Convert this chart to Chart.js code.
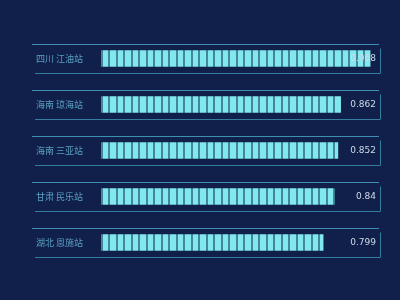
<!DOCTYPE html>
<html><head><meta charset="utf-8">
<script src="https://cdn.jsdelivr.net/npm/chart.js@4/dist/chart.umd.min.js"></script>
<style>html,body{margin:0;padding:0;background:#10204a;}#wrap{width:400px;height:300px;}</style>
</head><body><div id="wrap"><canvas id="c" width="400" height="300"></canvas></div>
<script>
const categories = ['四川 江油站', '海南 琼海站', '海南 三亚站', '甘肃 民乐站', '湖北 恩施站'];
const values = [0.968, 0.862, 0.852, 0.84, 0.799];
const axisMax = 1;

function makePattern(ctx) {
  const pc = document.createElement('canvas');
  pc.width = 15; pc.height = 20;
  const p = pc.getContext('2d');
  p.fillStyle = '#80e8ee';
  p.fillRect(0, 0, 15, 20);
  p.fillStyle = '#44879a';
  p.fillRect(0, 0, 2, 20);
  p.fillRect(7, 0, 2, 20);
  const pat = ctx.createPattern(pc, 'repeat');
  if (pat.setTransform) pat.setTransform(new DOMMatrix().translateSelf(101, 0));
  return pat;
}

const framePlugin = {
  id: 'frames',
  beforeDatasetsDraw(chart) {
    const ctx = chart.ctx, ys = chart.scales.y;
    ctx.save();
    ctx.lineWidth = 1;
    categories.forEach((c, i) => {
      const cy = ys.getPixelForValue(i);
      ctx.strokeStyle = '#3f8fb2';
      ctx.beginPath();
      ctx.moveTo(32, Math.round(cy - 14.5) + 0.5); ctx.lineTo(379, Math.round(cy - 14.5) + 0.5);
      ctx.stroke();
      ctx.strokeStyle = '#347ea0';
      ctx.beginPath();
      ctx.moveTo(380.5, cy - 10); ctx.lineTo(380.5, cy + 15);
      ctx.moveTo(35, Math.round(cy + 14.5) + 0.5); ctx.lineTo(380, Math.round(cy + 14.5) + 0.5);
      ctx.stroke();
      ctx.fillStyle = '#5b9fc2';
      ctx.font = '9px "Noto Sans CJK SC"';
      ctx.textAlign = 'left'; ctx.textBaseline = 'middle';
      ctx.fillText(c, 36, cy);
    });
    ctx.restore();
  },
  afterDatasetsDraw(chart) {
    const ctx = chart.ctx, ys = chart.scales.y;
    ctx.save();
    ctx.fillStyle = '#cfdbe8';
    ctx.font = '9px "DejaVu Sans"';
    ctx.textAlign = 'right'; ctx.textBaseline = 'middle';
    values.forEach((v, i) => {
      ctx.fillText(String(v), 376, ys.getPixelForValue(i));
    });
    ctx.restore();
  }
};

const ctx = document.getElementById('c').getContext('2d');
new Chart(ctx, {
  type: 'bar',
  data: {
    labels: categories,
    datasets: [{
      data: values,
      backgroundColor: makePattern(ctx),
      borderWidth: 0,
      barThickness: 16
    }]
  },
  options: {
    indexAxis: 'y',
    responsive: false,
    animation: false,
    devicePixelRatio: 1,
    layout: { padding: { left: 101, right: 21, top: 35.5, bottom: 34.5 } },
    scales: {
      x: { display: false, min: 0, max: axisMax },
      y: { display: false }
    },
    plugins: { legend: { display: false }, tooltip: { enabled: false } }
  },
  plugins: [framePlugin]
});
</script>
</body></html>
